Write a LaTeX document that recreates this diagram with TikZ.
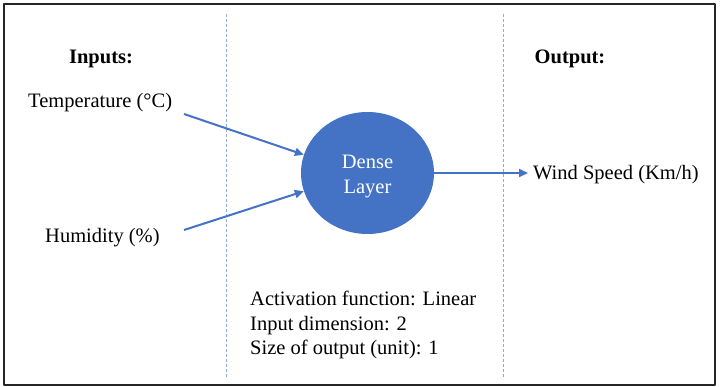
\documentclass[tikz,border=0pt]{standalone}
\usepackage{fontspec}
\setmainfont{Liberation Serif}
\usetikzlibrary{arrows.meta,positioning,shapes.geometric}

\definecolor{layerblue}{HTML}{4472C4}
\definecolor{sepblue}{HTML}{8FAADC}

\begin{document}
\begin{tikzpicture}[x=1pt, y=-1pt, font=\fontsize{20.5}{24.5}\selectfont, line join=round,
    link/.style={line width=2pt, layerblue, -{Triangle[length=9pt, width=8pt]}},
    sepline/.style={sepblue, line width=0.8pt, dash pattern=on 3pt off 2pt},
    txt/.style={inner sep=0pt, anchor=base west}]
    \useasboundingbox (0,0) rectangle (720,387);
    \draw[line width=2pt, black!85] (4,4) rectangle (715,385);

    % column separators
    \draw[sepline] (226,14) -- (226,377);
    \draw[sepline] (503,14) -- (503,377);

    % headings
    \node[inner sep=0pt, anchor=base] (inputs) at (101,64) {\bfseries Inputs:};
    \node[inner sep=0pt, anchor=base] (output) at (570,64) {\bfseries Output:};

    % inputs and output
    \node[txt] (temp) at (28,108) {Temperature (°C)};
    \node[txt] (hum) at (45,243) {Humidity (\%)};
    \node[txt] (wind) at (533,180) {Wind Speed (Km/h)};

    % the layer
    \node[ellipse, fill=layerblue, minimum width=133pt, minimum height=122pt, inner sep=0pt,
          text=white] (layer) at (367.5,173)
        {\raisebox{-8.5pt}[0pt][0pt]{\begin{tabular}{@{}c@{}}Dense\\Layer\end{tabular}}};

    \coordinate (tempend) at (184,114);
    \coordinate (humend) at (184,230);
    \coordinate (windend) at (528,173);

    \draw[link] (tempend) -- (layer.164);
    \draw[link] (humend) -- (layer.196);
    \draw[link] (layer.east) -- (windend);

    % layer settings
    \node[txt, align=left, anchor=north west] (info) at (250,291)
        {Activation function: Linear\\Input dimension: 2\\Size of output (unit): 1};
\end{tikzpicture}
\end{document}
